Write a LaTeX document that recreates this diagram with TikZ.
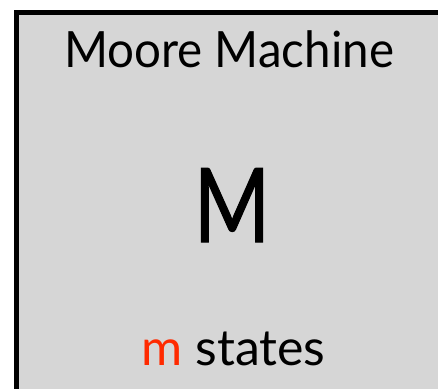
\documentclass[tikz,border=0pt]{standalone}
\usepackage{fontspec}
\setmainfont{Lato}
% heavier cut for the large letter
\newfontfamily\heavyletter[FakeBold=1.2]{Lato}
\definecolor{panelgray}{HTML}{D6D6D6}
\definecolor{statered}{HTML}{FF2A00}
\begin{document}
\begin{tikzpicture}[x=1pt,y=1pt,
  txt/.style={inner sep=0pt,anchor=base,text=black}]
\useasboundingbox (0,0) rectangle (438,388);
\clip (0,0) rectangle (438,388);
% machine panel, running past the right and bottom edges
\draw[line width=5pt,fill=panelgray] (16.5,375.5) rectangle (460,-20);
\node[txt,font=\fontsize{50}{50}\selectfont] (title) at (229,320) {\scalebox{0.95}[1]{Moore Machine}};
\node[txt,font=\heavyletter\fontsize{103}{103}\selectfont] (letter) at (232,146) {\scalebox{0.8}[1]{M}};
\node[txt,font=\fontsize{50}{50}\selectfont] (states) at (233.5,23) {\textcolor{statered}{m} states};
\end{tikzpicture}
\end{document}
